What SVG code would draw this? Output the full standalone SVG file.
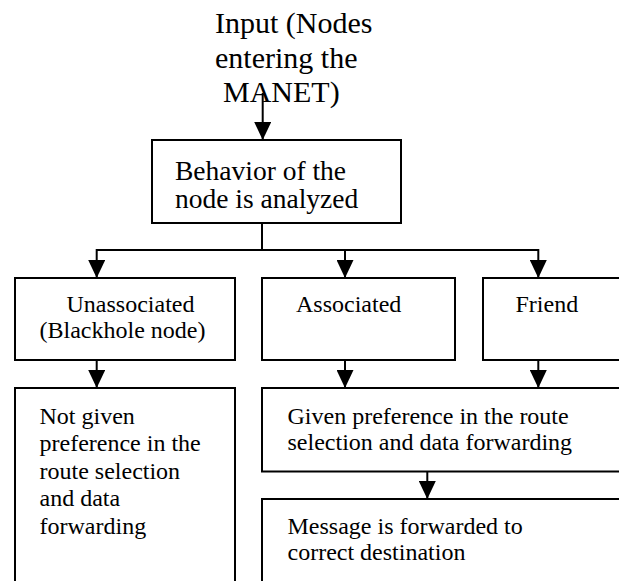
<svg xmlns="http://www.w3.org/2000/svg" width="619" height="581" viewBox="0 0 619 581">
<style>
.box{fill:#fff;stroke:#000;stroke-width:2}
.ln{fill:none;stroke:#000;stroke-width:2}
text{font-family:'Liberation Serif','Times New Roman',serif;fill:#000}
.big{font-size:30px}
.mid{font-size:27.5px}
.sm{font-size:24px}
</style>
<defs>
<marker id="ah" viewBox="0 0 18 17" refX="18" refY="8.5" markerWidth="18" markerHeight="17" markerUnits="userSpaceOnUse" orient="auto">
<path d="M0,0 L18,8.5 L0,17 z" fill="#000"/>
</marker>
</defs>
<rect width="619" height="581" fill="#fff"/>
<g id="input">
<text class="big" x="215" y="33">Input (Nodes</text>
<text class="big" x="215" y="68">entering the</text>
<text class="big" x="223" y="102">MANET)</text>
</g>
<g id="behavior">
<rect class="box" x="152" y="140" width="249" height="83"/>
<text class="mid" x="175" y="180">Behavior of the</text>
<text class="mid" x="175" y="208">node is analyzed</text>
</g>
<g id="unassociated">
<rect class="box" x="15" y="278" width="220" height="82"/>
<text class="sm" x="66.5" y="311.5">Unassociated</text>
<text class="sm" x="39.5" y="338">(Blackhole node)</text>
</g>
<g id="associated">
<rect class="box" x="262" y="278" width="193" height="82"/>
<text class="sm" x="296" y="311.5">Associated</text>
</g>
<g id="friend">
<rect class="box" x="483" y="278" width="140" height="82"/>
<text class="sm" x="515.5" y="311.5">Friend</text>
</g>
<g id="notgiven">
<rect class="box" x="15" y="388" width="220" height="205"/>
<text class="sm" x="39.5" y="423.5">Not given</text>
<text class="sm" x="39.5" y="451">preference in the</text>
<text class="sm" x="39.5" y="478.5">route selection</text>
<text class="sm" x="39.5" y="506">and data</text>
<text class="sm" x="39.5" y="533.5">forwarding</text>
</g>
<g id="given">
<rect class="box" x="262" y="388" width="361" height="83.5"/>
<text class="sm" x="287.5" y="423.5">Given preference in the route</text>
<text class="sm" x="287.5" y="449.5">selection and data forwarding</text>
</g>
<g id="message">
<rect class="box" x="262" y="499" width="361" height="94"/>
<text class="sm" x="287.5" y="533.5">Message is forwarded to</text>
<text class="sm" x="287.5" y="559.5">correct destination</text>
</g>
<g id="connectors">
<path class="ln" d="M262.7,93 V140" marker-end="url(#ah)"/>
<path class="ln" d="M262,223 V250 M96.7,250 H538.3"/>
<path class="ln" d="M96.7,249 V278" marker-end="url(#ah)"/>
<path class="ln" d="M345,250 V278" marker-end="url(#ah)"/>
<path class="ln" d="M538.3,249 V278" marker-end="url(#ah)"/>
<path class="ln" d="M96.7,360 V388" marker-end="url(#ah)"/>
<path class="ln" d="M345,360 V388" marker-end="url(#ah)"/>
<path class="ln" d="M538.3,360 V388" marker-end="url(#ah)"/>
<path class="ln" d="M427.3,471.5 V499" marker-end="url(#ah)"/>
</g>
</svg>
